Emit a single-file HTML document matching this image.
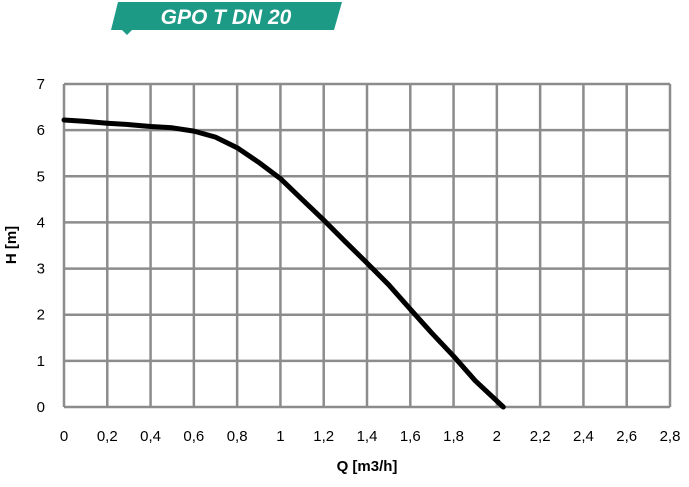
<!DOCTYPE html>
<html><head><meta charset="utf-8"><style>
body{margin:0;background:#fff;width:689px;height:482px;overflow:hidden;font-family:"Liberation Sans",sans-serif}
</style></head><body>
<svg width="689" height="482">
<g>
<polygon points="118,2 342,2 334,30 111,30" fill="#1c9a86"/>
<polygon points="122,30 132,30 127,35" fill="#1c9a86"/>
<text x="226" y="24" text-anchor="middle" font-size="21" font-weight="bold" font-style="italic" fill="#fff">GPO T DN 20</text>
</g>
<g id="grid"></g>
<g id="ticks"></g>
<path id="curve" fill="none" stroke="#000" stroke-width="5" stroke-linejoin="round" stroke-linecap="round"/>
<text x="367" y="471" text-anchor="middle" font-size="15" font-weight="bold">Q [m3/h]</text>
<text transform="translate(16,245) rotate(-90)" text-anchor="middle" font-size="15" font-weight="bold">H [m]</text>
</svg>
<script>
const xTicks=["0","0,2","0,4","0,6","0,8","1","1,2","1,4","1,6","1,8","2","2,2","2,4","2,6","2,8"];
const yTicks=["0","1","2","3","4","5","6","7"];
const flowQ=[0,0.1,0.2,0.3,0.4,0.5,0.6,0.7,0.8,0.9,1.0,1.1,1.2,1.3,1.4,1.5,1.6,1.7,1.8,1.9,2.03];
const headH=[6.22,6.19,6.15,6.12,6.08,6.05,5.98,5.85,5.62,5.3,4.95,4.5,4.05,3.58,3.12,2.65,2.12,1.6,1.1,0.57,0];
const X0=64,X1=670,Y0=407,Y1=84;
const sx=v=>X0+v/2.8*(X1-X0), sy=v=>Y0-v/7*(Y0-Y1);
const ns="http://www.w3.org/2000/svg";
const grid=document.getElementById('grid'),ticks=document.getElementById('ticks');
xTicks.forEach((t,i)=>{const v=i*0.2;
 const l=document.createElementNS(ns,'line');
 
 
 l.setAttribute('x1',sx(v));l.setAttribute('x2',sx(v));l.setAttribute('y1',Y1);l.setAttribute('y2',Y0);
 l.setAttribute('stroke','#8c8c8c');l.setAttribute('stroke-width','2.5');grid.appendChild(l);
 const tx=document.createElementNS(ns,'text');
 
 
 tx.setAttribute('x',sx(v));tx.setAttribute('y',441);tx.setAttribute('text-anchor','middle');tx.setAttribute('font-size','15');
 tx.textContent=t;ticks.appendChild(tx);});
yTicks.forEach((t,i)=>{
 const l=document.createElementNS(ns,'line');
 
 
 l.setAttribute('x1',X0);l.setAttribute('x2',X1);l.setAttribute('y1',sy(i));l.setAttribute('y2',sy(i));
 l.setAttribute('stroke','#8c8c8c');l.setAttribute('stroke-width','2.5');grid.appendChild(l);
 const tx=document.createElementNS(ns,'text');
 
 
 tx.setAttribute('x',45);tx.setAttribute('y',sy(i)+5);tx.setAttribute('text-anchor','end');tx.setAttribute('font-size','15');
 tx.textContent=t;ticks.appendChild(tx);});
document.getElementById('curve').setAttribute('d',flowQ.map((q,i)=>(i?'L':'M')+sx(q).toFixed(1)+','+sy(headH[i]).toFixed(1)).join(' '));
</script>
</body></html>
